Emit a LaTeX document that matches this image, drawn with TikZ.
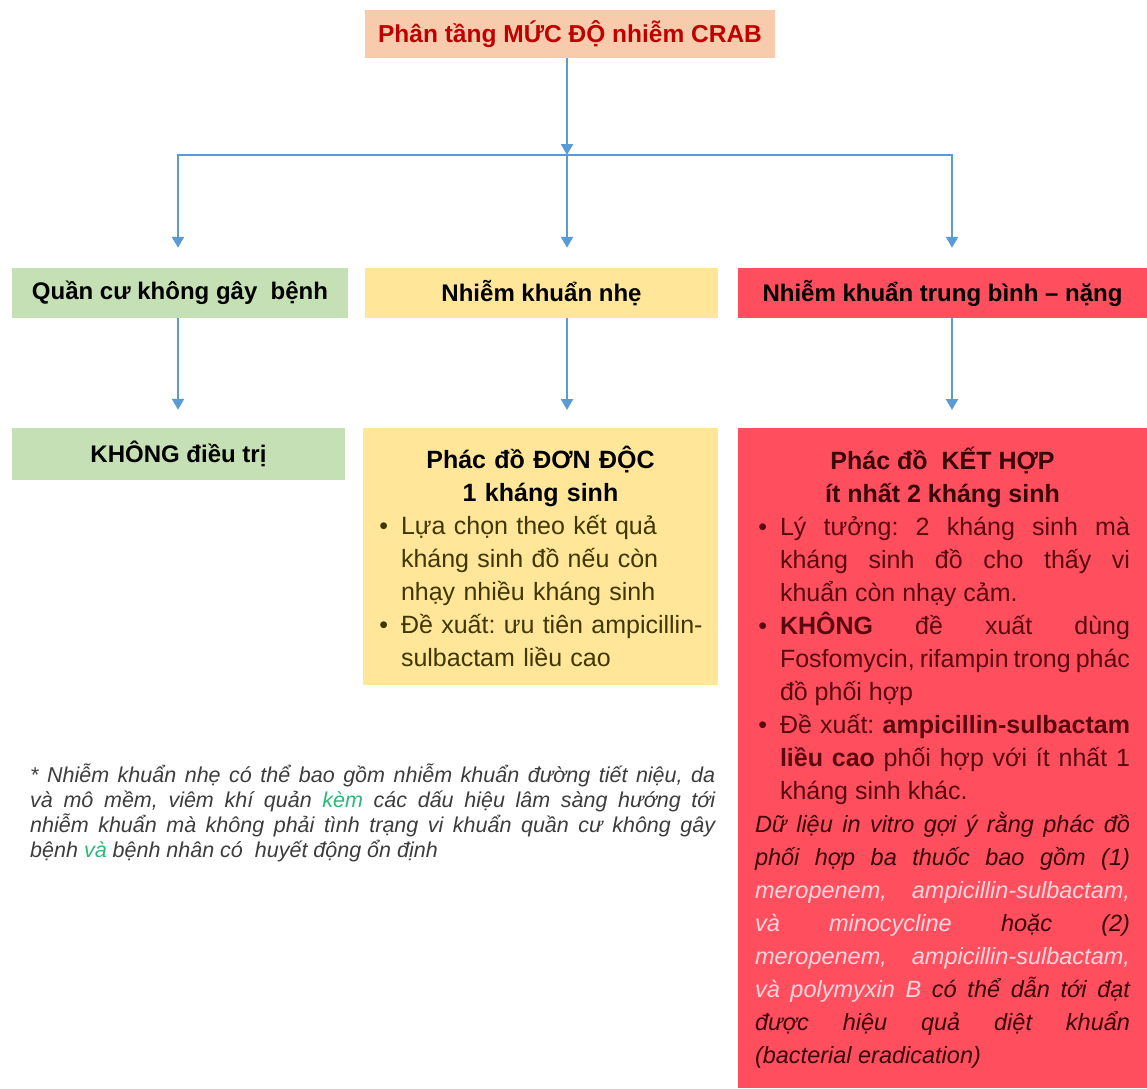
\documentclass[tikz,border=0pt]{standalone}
\usepackage{fontspec}
\setmainfont{Liberation Sans}
\usepackage{xcolor}
\usepackage{tikz}
\usetikzlibrary{arrows.meta,positioning}
\usepackage{enumitem}
\setlist[itemize]{label=\textbullet, labelsep=13pt, itemsep=0pt, topsep=0pt, parsep=0pt, partopsep=0pt}
\frenchspacing

\definecolor{peach}{HTML}{F8CBAD}
\definecolor{titlered}{HTML}{C00000}
\definecolor{greenbox}{HTML}{C5E0B4}
\definecolor{yellowbox}{HTML}{FFE699}
\definecolor{redbox}{HTML}{FF4F5F}
\definecolor{arrowblue}{HTML}{5B9BD5}
\definecolor{olivetext}{HTML}{403600}
\definecolor{maroontext}{HTML}{5A0A0E}
\definecolor{darkred}{HTML}{3A0508}
\definecolor{pinktext}{HTML}{FFD6DC}
\definecolor{notegray}{HTML}{3C3C3C}
\definecolor{notegreen}{HTML}{2DB87A}

\begin{document}
\begin{tikzpicture}[
    x=1pt, y=-1pt,
    flow/.style={-{Triangle[length=11pt,width=12pt]}, line width=2.4pt, draw=arrowblue},
    level/.style={rectangle, inner sep=0pt, minimum height=50pt, font=\bfseries\fontsize{24}{29}\selectfont},
    plan/.style={rectangle, anchor=north, inner ysep=0pt, font=\fontsize{25}{33}\selectfont}
]
    \useasboundingbox (0,0) rectangle (1147,1088);

    \node[fill=peach, minimum width=410pt, minimum height=48pt, text=titlered,
          font=\bfseries\fontsize{24.5}{29}\selectfont] (title) at (570,34) {Phân tầng MỨC ĐỘ nhiễm CRAB};

    % muc do nhiem
    \node[level, fill=greenbox, minimum width=336pt] (colon) at (180,293) {Quần cư không gây~ bệnh};
    \node[level, fill=yellowbox, minimum width=353pt] (mild) at (541.5,293) {Nhiễm khuẩn nhẹ};
    \node[level, fill=redbox, minimum width=409pt] (severe) at (942.5,293) {Nhiễm khuẩn trung bình – nặng};

    % phac do
    \node[level, fill=greenbox, minimum width=333pt, minimum height=52pt] (notreat) at (178.5,454) {KHÔNG điều trị};
    \node[plan, fill=yellowbox, text width=335pt, inner xsep=10pt, minimum height=257pt, align=left, text=olivetext] (mono) at (540.5,428) {%
        {\centering\bfseries\color{black} Phác đồ ĐƠN ĐỘC\\ 1 kháng sinh\par}
        \begin{itemize}[leftmargin=28pt]
            \item Lựa chọn theo kết quả\\ kháng sinh đồ nếu còn\\ nhạy nhiều kháng sinh
            \item Đề xuất: ưu tiên ampicillin-\\sulbactam liều cao
        \end{itemize}};
    \node[plan, fill=redbox, text width=375pt, inner xsep=17pt, minimum height=660pt, align=justify, text=maroontext] (combo) at (942.5,428) {%
        {\centering\bfseries\color{darkred} Phác đồ~ KẾT HỢP\\ ít nhất 2 kháng sinh\par}
        \begin{itemize}[leftmargin=25pt]
            \item Lý tưởng: 2 kháng sinh mà\linebreak kháng sinh đồ cho thấy vi\linebreak khuẩn còn nhạy cảm.
            \item \textbf{KHÔNG} đề xuất dùng\linebreak Fosfomycin, rifampin trong phác\linebreak đồ phối hợp
            \item Đề xuất: \textbf{\mbox{ampicillin-sulbactam}}\linebreak \textbf{liều cao} phối hợp với ít nhất 1\linebreak kháng sinh khác.
        \end{itemize}
        {\itshape\fontsize{23.5}{33}\selectfont\color{darkred} Dữ liệu in vitro gợi ý rằng phác đồ\linebreak phối hợp ba thuốc bao gồm (1)\linebreak
        \textcolor{pinktext}{meropenem, \mbox{ampicillin-sulbactam},}\linebreak \textcolor{pinktext}{và minocycline} hoặc (2)\linebreak
        \textcolor{pinktext}{meropenem, \mbox{ampicillin-sulbactam},}\linebreak \textcolor{pinktext}{và polymyxin B} có thể dẫn tới đạt\linebreak
        được hiệu quả diệt khuẩn\linebreak (bacterial eradication)\par}};

    \node[anchor=north west, inner sep=0pt, text width=685pt, align=justify, text=notegray,
          font=\itshape\fontsize{21.5}{25}\selectfont] (note) at (30,764) {%
        * Nhiễm khuẩn nhẹ có thể bao gồm nhiễm khuẩn đường tiết niệu, da\linebreak
        và mô mềm, viêm khí quản \textcolor{notegreen}{kèm} các dấu hiệu lâm sàng hướng tới\linebreak
        nhiễm khuẩn mà không phải tình trạng vi khuẩn quần cư không gây\linebreak
        bệnh \textcolor{notegreen}{và} bệnh nhân có~ huyết động ổn định};

    % mui ten
    \coordinate (split) at (567,155);
    \coordinate (splitL) at (178,155);
    \coordinate (splitR) at (952,155);
    \draw[flow] (title.south -| split) -- (split);
    \draw[flow, shorten >=20pt] (split) -| (splitL |- colon.north);
    \draw[flow, shorten >=20pt] (split) -| (splitR |- severe.north);
    \draw[flow, shorten >=20pt] (split) -- (split |- mild.north);
    \draw[flow, shorten >=18pt] (splitL |- colon.south) -- (splitL |- notreat.north);
    \draw[flow, shorten >=18pt] (split |- mild.south) -- (split |- mono.north);
    \draw[flow, shorten >=18pt] (splitR |- severe.south) -- (splitR |- combo.north);
\end{tikzpicture}
\end{document}
